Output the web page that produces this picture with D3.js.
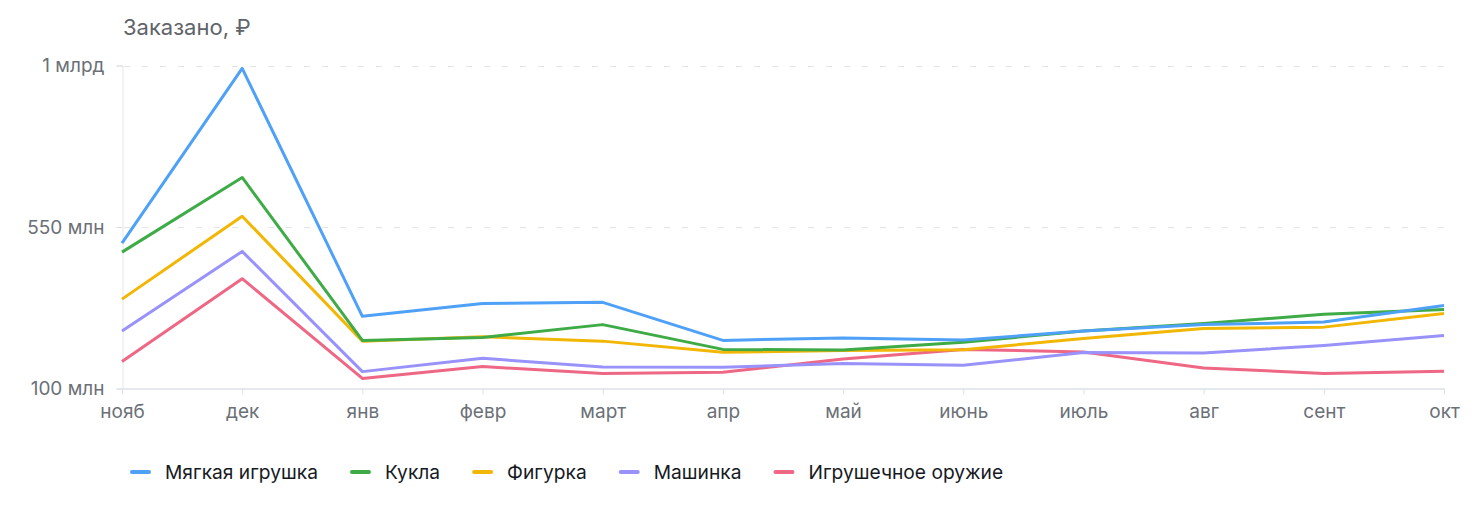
<!DOCTYPE html>
<html><head><meta charset="utf-8">
<script src="https://cdn.jsdelivr.net/npm/d3@7"></script>
<style>
html,body{margin:0;padding:0;background:#fff;}
svg{display:block;font-family:Inter,"Noto Sans",sans-serif;}
</style></head>
<body>
<svg id="chart" width="1476" height="511"></svg>
<script>
const months = ["нояб","дек","янв","февр","март","апр","май","июнь","июль","авг","сент","окт"];
const seriesNames = ["Мягкая игрушка","Кукла","Фигурка","Машинка","Игрушечное оружие"];
const seriesColors = ["#4ea1f7","#3fab47","#f2b705","#9892fa","#ee6784"];
// values in millions of rubles
const softToy = [505, 992, 301, 337, 340, 234, 241, 235, 260, 278, 285, 331];
const doll    = [480, 688, 234, 242, 278, 209, 207, 229, 260, 281, 307, 320];
const figure  = [349, 580, 232, 244, 232, 201, 206, 208, 239, 267, 271, 309];
const car     = [260, 482, 147, 184, 160, 159, 170, 165, 200, 199, 220, 248];
const gun     = [175, 406, 128, 161, 142, 145, 182, 209, 202, 157, 142, 148];
const yTicks = [100, 550, 1000];
const yTickLabels = ["100 млн","550 млн","1 млрд"];

const allSeries = [softToy, doll, figure, car, gun];

const svg = d3.select("#chart");
const L = 122, R = 1444, T = 65.5, B = 388.5;

const x = d3.scalePoint().domain(months).range([L, R]);
const y = d3.scaleLinear().domain([100, 1000]).range([B, T]);

// title
svg.append("text").attr("x", 123).attr("y", 35)
  .attr("font-size", 22).attr("fill", "#5f646b").text("Заказано, ₽");

// gridlines
svg.append("g").selectAll("line").data(yTicks.slice(1)).join("line")
  .attr("x1", L + 2).attr("x2", R)
  .attr("y1", d => Math.round(y(d)) + 0.5).attr("y2", d => Math.round(y(d)) + 0.5)
  .attr("stroke", "#e3e5e8").attr("stroke-width", 1).attr("stroke-dasharray", "6,12");

// y axis
const yAxis = d3.axisLeft(y).tickValues(yTicks)
  .tickFormat((d, i) => yTickLabels[i]).tickSize(6).tickPadding(12);
const gy = svg.append("g").attr("transform", `translate(${L + 0.5},0)`).call(yAxis);
gy.select(".domain").attr("stroke", "#e3e6ea");
gy.selectAll(".tick line").attr("stroke", "#d9dde2");
gy.selectAll(".tick text").attr("font-size", 19).attr("fill", "#6b7077")
  .attr("font-family", "Inter, sans-serif");

// x axis
const xAxis = d3.axisBottom(x).tickSize(6).tickPadding(10).tickSizeOuter(0);
const gx = svg.append("g").attr("transform", `translate(0,${B})`).call(xAxis);
gx.select(".domain").attr("stroke", "#dde2e8").attr("stroke-width", 1.5);
gx.selectAll(".tick line").attr("stroke", "#dde2e8");
gx.selectAll(".tick text").attr("font-size", 19).attr("fill", "#6b7077")
  .attr("font-family", "Inter, sans-serif");

// lines
const line = d3.line().x((d, i) => x(months[i])).y(d => y(d));
const drawOrder = [4, 3, 2, 1, 0];
svg.append("g").selectAll("path").data(drawOrder).join("path")
  .attr("d", k => line(allSeries[k]))
  .attr("fill", "none").attr("stroke", k => seriesColors[k])
  .attr("stroke-width", 3).attr("stroke-linejoin", "round").attr("stroke-linecap", "butt");

// legend
const legend = svg.append("g").attr("transform", "translate(131,472)");
let lx = 0;
seriesNames.forEach((name, i) => {
  const g = legend.append("g").attr("transform", `translate(${lx},0)`);
  g.append("line").attr("x1", 1).attr("x2", 18).attr("y1", 0).attr("y2", 0)
    .attr("stroke", seriesColors[i]).attr("stroke-width", 4).attr("stroke-linecap", "round");
  const t = g.append("text").attr("x", 34).attr("y", 7).attr("font-size", 19.2)
    .attr("fill", "#161a1f").text(name);
  const w = t.node().getComputedTextLength();
  lx += 34 + w + 33;
});
</script>
</body></html>
